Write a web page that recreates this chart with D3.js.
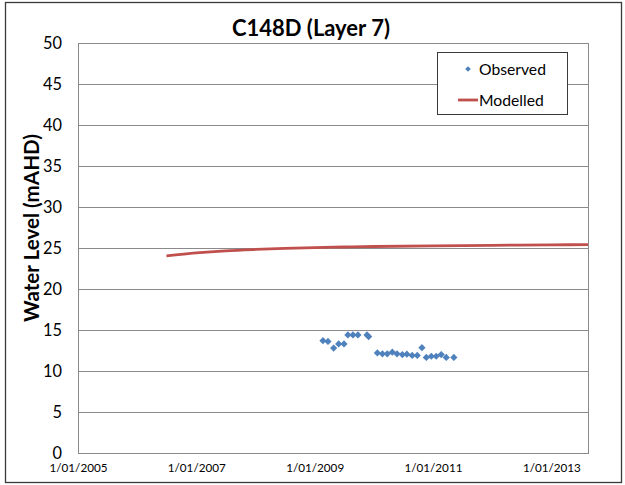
<!DOCTYPE html>
<html>
<head>
<meta charset="utf-8">
<script src="https://cdn.jsdelivr.net/npm/d3@7"></script>
<style>
  html, body { margin: 0; padding: 0; background: #fff; }
  svg { display: block; font-family: Lato, "Open Sans", sans-serif; }
</style>
</head>
<body>
<svg id="chart" width="625" height="485"></svg>
<script>
// ---- Data ----
const chartTitle = "C148D (Layer 7)";
const yAxisTitle = "Water Level (mAHD)";
const xDomain = ["2005-01-01", "2013-08-15"];
const xTickDates = ["2005-01-01", "2007-01-01", "2009-01-01", "2011-01-01", "2013-01-01"];
const xTickLabels = ["1/01/2005", "1/01/2007", "1/01/2009", "1/01/2011", "1/01/2013"];
const yTicks = [0, 5, 10, 15, 20, 25, 30, 35, 40, 45, 50];

const observedDates = [
  "2009-02-21", "2009-03-24", "2009-04-28", "2009-05-29", "2009-07-01",
  "2009-07-25", "2009-08-25", "2009-09-25", "2009-11-20", "2009-11-30",
  "2010-01-23", "2010-02-23", "2010-03-25", "2010-04-25", "2010-05-24",
  "2010-06-26", "2010-07-24", "2010-08-26", "2010-09-26", "2010-10-25",
  "2010-11-21", "2010-12-22", "2011-01-21", "2011-02-21", "2011-03-24",
  "2011-05-10"
];
const observedValues = [
  13.7, 13.6, 12.8, 13.3, 13.3,
  14.4, 14.4, 14.4, 14.4, 14.2,
  12.2, 12.1, 12.1, 12.3, 12.1,
  12.0, 12.05, 11.9, 11.9, 12.85,
  11.65, 11.8, 11.8, 12.0, 11.65,
  11.65
];

const modelledDates = [
  "2006-07-01", "2007-01-01", "2007-07-01", "2008-01-01", "2008-07-01",
  "2009-01-01", "2009-07-01", "2010-01-01", "2011-01-01", "2012-01-01",
  "2013-01-01", "2013-08-15"
];
const modelledValues = [
  24.05, 24.4, 24.65, 24.82, 24.95,
  25.05, 25.12, 25.18, 25.27, 25.33,
  25.38, 25.42
];

const legendLabels = ["Observed", "Modelled"];

// ---- Drawing ----
const parse = d3.timeParse("%Y-%m-%d");
const svg = d3.select("#chart");
const W = 625, H = 485;
const plot = { left: 78, right: 588, top: 43, bottom: 453 };

const colObs = "#4F81BD";
const colMod = "#C0504D";
const gridCol = "#8a8a8a";

// size a font so a sample string gets a target width
function fitSize(sample, target, weight) {
  const t = svg.append("text").attr("font-size", 100).attr("font-weight", weight || "normal").text(sample);
  const w = t.node().getComputedTextLength();
  t.remove();
  return 100 * target / w;
}

svg.append("rect").attr("x", 0).attr("y", 0).attr("width", W).attr("height", H).attr("fill", "#fff");
// outer chart border
svg.append("rect")
  .attr("x", 5.5).attr("y", 2.5).attr("width", 616).attr("height", 480)
  .attr("fill", "none").attr("stroke", "#3a3a3a").attr("stroke-width", 1.3);

const x = d3.scaleTime().domain(xDomain.map(parse)).range([plot.left, plot.right]);
const y = d3.scaleLinear().domain([0, 50]).range([plot.bottom, plot.top]);

// gridlines
svg.append("g").selectAll("line").data(yTicks.filter(v => v > 0)).join("line")
  .attr("x1", plot.left).attr("x2", plot.right)
  .attr("y1", d => Math.round(y(d)) + 0.5).attr("y2", d => Math.round(y(d)) + 0.5)
  .attr("stroke", gridCol).attr("stroke-width", 1);

// plot border (left, right, bottom)
svg.append("line").attr("x1", plot.left + 0.5).attr("x2", plot.left + 0.5)
  .attr("y1", plot.top).attr("y2", plot.bottom).attr("stroke", gridCol);
svg.append("line").attr("x1", plot.right + 0.5).attr("x2", plot.right + 0.5)
  .attr("y1", plot.top).attr("y2", plot.bottom).attr("stroke", gridCol);
svg.append("line").attr("x1", plot.left).attr("x2", plot.right + 1)
  .attr("y1", plot.bottom + 0.5).attr("y2", plot.bottom + 0.5).attr("stroke", gridCol);

const yFs = fitSize("50", 19);
const xFs = fitSize("1/01/2005", 58);
const titleFs = fitSize(chartTitle, 158, "bold");
const yTitleFs = fitSize(yAxisTitle, 188, "bold");
const legFs = fitSize("Observed", 67);

// y axis labels
const yAxis = d3.axisLeft(y).tickValues(yTicks).tickSize(0).tickPadding(16);
const gy = svg.append("g").attr("transform", `translate(${plot.left},0)`).call(yAxis);
gy.select(".domain").remove();
gy.selectAll("text").attr("font-size", yFs).attr("fill", "#000").attr("font-family", "Lato, sans-serif");

// x axis labels
const xAxis = d3.axisBottom(x).tickValues(xTickDates.map(parse))
  .tickFormat((d, i) => xTickLabels[i]).tickSize(0).tickPadding(11);
const gx = svg.append("g").attr("transform", `translate(0,${plot.bottom})`).call(xAxis);
gx.select(".domain").remove();
gx.selectAll("text").attr("font-size", xFs).attr("fill", "#000").attr("font-family", "Lato, sans-serif");

// modelled line
const mData = modelledDates.map((d, i) => ({ date: parse(d), v: modelledValues[i] }));
svg.append("path").datum(mData)
  .attr("d", d3.line().x(d => x(d.date)).y(d => y(d.v)).curve(d3.curveMonotoneX))
  .attr("fill", "none").attr("stroke", colMod).attr("stroke-width", 2.8);

// observed points
const oData = observedDates.map((d, i) => ({ date: parse(d), v: observedValues[i] }));
svg.append("g").selectAll("path").data(oData).join("path")
  .attr("transform", d => `translate(${x(d.date)},${y(d.v)}) rotate(45)`)
  .attr("d", d3.symbol().type(d3.symbolSquare).size(26))
  .attr("fill", colObs);

// title
svg.append("text").attr("x", 311).attr("y", 36).attr("text-anchor", "middle")
  .attr("font-size", titleFs).attr("font-weight", "bold").attr("fill", "#000").text(chartTitle);

// y axis title
svg.append("text").attr("transform", "translate(39,228) rotate(-90)")
  .attr("text-anchor", "middle").attr("font-size", yTitleFs).attr("font-weight", "bold")
  .attr("fill", "#000").text(yAxisTitle);

// legend
const lg = svg.append("g");
lg.append("rect").attr("x", 437.5).attr("y", 52.5).attr("width", 130).attr("height", 62)
  .attr("fill", "#fff").attr("stroke", "#3a3a3a").attr("stroke-width", 1);
lg.append("path").attr("transform", "translate(468,69) rotate(45)")
  .attr("d", d3.symbol().type(d3.symbolSquare).size(16)).attr("fill", colObs);
lg.append("line").attr("x1", 458).attr("x2", 478).attr("y1", 100).attr("y2", 100)
  .attr("stroke", colMod).attr("stroke-width", 2.8);
lg.selectAll("text").data(legendLabels).join("text")
  .attr("x", 479).attr("y", (d, i) => 75 + i * 31)
  .attr("font-size", legFs).attr("fill", "#000").text(d => d);
</script>
</body>
</html>
